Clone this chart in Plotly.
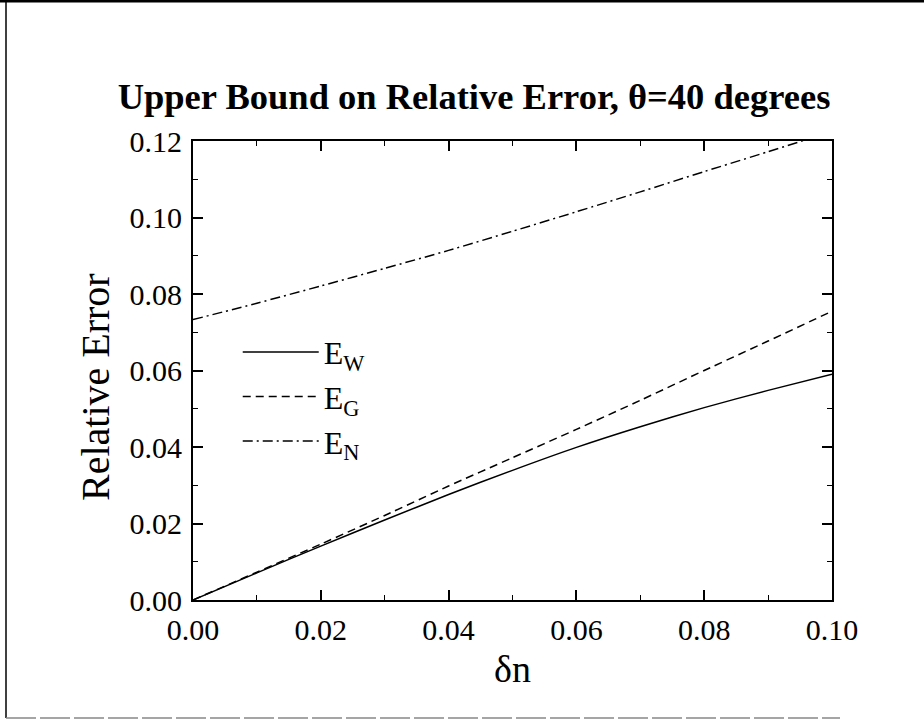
import plotly.graph_objects as go

# Data
delta_n = [0.00, 0.01, 0.02, 0.03, 0.04, 0.05, 0.06, 0.07, 0.08, 0.09, 0.10]
E_W = [0.0, 0.0071, 0.0141, 0.0209, 0.0276, 0.0339, 0.0399, 0.0453, 0.0503, 0.0548, 0.0590]
E_G = [0.0, 0.0073, 0.0146, 0.0221, 0.0298, 0.0372, 0.0446, 0.0522, 0.0600, 0.0677, 0.0755]
E_N = [0.0733, 0.0776, 0.0821, 0.0867, 0.0914, 0.0964, 0.1015, 0.1067, 0.1120, 0.1172, 0.1225]

series_names = ["E<sub>W</sub>", "E<sub>G</sub>", "E<sub>N</sub>"]
x_ticks = [0.00, 0.02, 0.04, 0.06, 0.08, 0.10]
y_ticks = [0.00, 0.02, 0.04, 0.06, 0.08, 0.10, 0.12]

FONT = "Liberation Serif, Times New Roman, serif"

fig = go.Figure()
styles = ["solid", "8px,5px", "10px,4px,2px,4px"]
for name, ys, dash in zip(series_names, [E_W, E_G, E_N], styles):
    fig.add_trace(go.Scatter(
        x=delta_n, y=ys, mode="lines", name=name, legendgroup=name,
        line=dict(color="black", width=1.5, dash=dash, shape="spline", smoothing=0.6),
        cliponaxis=True,
    ))

axis_common = dict(
    showline=True, linecolor="black", linewidth=2, mirror="allticks",
    ticks="inside", ticklen=10, tickwidth=1.5, tickcolor="black",
    showgrid=False, zeroline=False, tickformat=".2f",
    tickfont=dict(family=FONT, size=30, color="black"),
    minor=dict(ticks="inside", ticklen=5, tickwidth=1.2, tickcolor="black", dtick=0.01),
)

fig.update_xaxes(range=[0, 0.10], tickvals=x_ticks, ticklabelstandoff=2,
                 title=dict(text="δn", font=dict(family=FONT, size=38, color="black"), standoff=10),
                 **axis_common)
fig.update_yaxes(range=[0, 0.12], tickvals=y_ticks, ticklabelstandoff=3, **axis_common)

fig.update_layout(
    width=924, height=721,
    margin=dict(l=193, r=92, t=141, b=121),
    paper_bgcolor="white", plot_bgcolor="white",
    font=dict(family=FONT, color="black"),
    title=dict(text="<b>Upper Bound on Relative Error, θ=40 degrees</b>",
               font=dict(family=FONT, size=36.5, color="black"),
               xref="container", x=0.513, xanchor="center",
               yref="container", y=1 - 96 / 721, yanchor="middle"),
    showlegend=True,
    legend=dict(x=0.07, y=0.60, xanchor="left", yanchor="top",
                bgcolor="rgba(0,0,0,0)", borderwidth=0,
                font=dict(family=FONT, size=32, color="black"),
                itemwidth=76, tracegroupgap=0),
    annotations=[dict(text="Relative Error", textangle=-90,
                      xref="paper", yref="paper",
                      x=(95 - 193) / 639, y=(600 - 387) / 459,
                      xanchor="center", yanchor="middle", showarrow=False,
                      font=dict(family=FONT, size=40, color="black"))],
    shapes=[
        dict(type="line", xref="paper", yref="paper",
             x0=-193 / 639, x1=(924 - 193) / 639, y0=(600 - 1) / 459, y1=(600 - 1) / 459,
             line=dict(color="black", width=3)),
        dict(type="line", xref="paper", yref="paper",
             x0=(6 - 193) / 639, x1=(6 - 193) / 639, y0=(600 - 1) / 459, y1=(600 - 718) / 459,
             line=dict(color="black", width=1.5)),
        dict(type="line", xref="paper", yref="paper",
             x0=(6 - 193) / 639, x1=(840 - 193) / 639, y0=(600 - 718) / 459, y1=(600 - 718) / 459,
             line=dict(color="#888888", width=1.5, dash="30px,4px")),
    ],
)

fig.write_html("out.html")
